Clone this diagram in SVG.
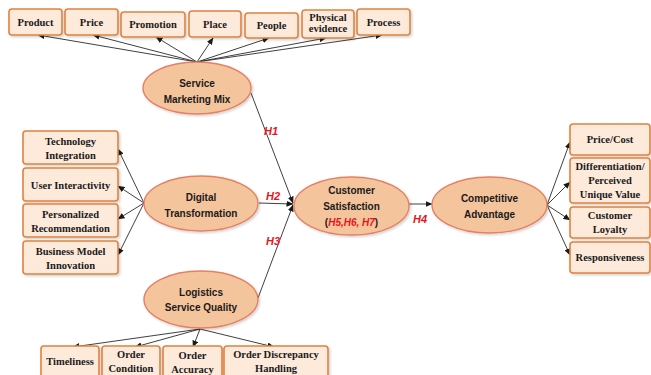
<svg xmlns="http://www.w3.org/2000/svg" width="651" height="375" viewBox="0 0 651 375">
<style>
.box{fill:#FDEADB;stroke:#E0823F;stroke-width:1.6}
.ell{fill:#F4C49C;stroke:#E58064;stroke-width:1.4}
.bt{font-family:"Liberation Serif",serif;font-weight:bold;font-size:10.5px;fill:#1a1a1a;text-anchor:middle}
.et{font-family:"Liberation Sans",sans-serif;font-weight:bold;font-size:10px;fill:#1a1a1a;text-anchor:middle}
.h{font-family:"Liberation Sans",sans-serif;font-weight:bold;font-style:italic;font-size:11px;fill:#E8141B;text-anchor:middle}
.c{stroke:#2a2a2a;stroke-width:0.9;fill:none;marker-end:url(#ah)}
</style>
<defs>
<marker id="ah" markerWidth="7" markerHeight="6" refX="6.5" refY="3" orient="auto" markerUnits="userSpaceOnUse">
<path d="M0,0 L7,3 L0,6 Z" fill="#1a1a1a"/>
</marker>
<filter id="sh" x="-10%" y="-10%" width="130%" height="140%">
<feDropShadow dx="1.5" dy="1.5" stdDeviation="1" flood-color="#000" flood-opacity="0.18"/>
</filter>
</defs>

<g id="connectors">
<line class="c" x1="197" y1="62" x2="38" y2="35"/>
<line class="c" x1="197" y1="62" x2="93" y2="35"/>
<line class="c" x1="197" y1="62" x2="156" y2="37"/>
<line class="c" x1="197" y1="62" x2="213" y2="38"/>
<line class="c" x1="197" y1="62" x2="269" y2="38"/>
<line class="c" x1="197" y1="62" x2="326" y2="38"/>
<line class="c" x1="197" y1="62" x2="382" y2="35"/>
<line class="c" x1="144" y1="203" x2="118" y2="149"/>
<line class="c" x1="144" y1="203" x2="118" y2="186"/>
<line class="c" x1="144" y1="203" x2="118" y2="219"/>
<line class="c" x1="144" y1="203" x2="118" y2="255"/>
<line class="c" x1="200" y1="329" x2="73" y2="347"/>
<line class="c" x1="200" y1="329" x2="135" y2="347"/>
<line class="c" x1="200" y1="329" x2="193" y2="347"/>
<line class="c" x1="200" y1="329" x2="274" y2="347"/>
<line class="c" x1="547" y1="205" x2="570" y2="142"/>
<line class="c" x1="547" y1="205" x2="570" y2="182"/>
<line class="c" x1="547" y1="205" x2="570" y2="220"/>
<line class="c" x1="547" y1="205" x2="570" y2="255"/>
<line class="c" x1="251" y1="93" x2="293" y2="203"/>
<line class="c" x1="259" y1="203" x2="293" y2="204"/>
<line class="c" x1="258" y1="298" x2="293" y2="205"/>
<line class="c" x1="409" y1="204" x2="432" y2="204"/>
<text class="h" x="271" y="135">H1</text>
<text class="h" x="273" y="200">H2</text>
<text class="h" x="273" y="245">H3</text>
<text class="h" x="420" y="223">H4</text>
</g>

<g id="product"><rect class="box" x="9" y="9" width="53" height="26" rx="3" filter="url(#sh)"/><text class="bt" x="35.5" y="26">Product</text></g>
<g id="price"><rect class="box" x="65" y="9" width="53" height="26" rx="3" filter="url(#sh)"/><text class="bt" x="91.5" y="26">Price</text></g>
<g id="promotion"><rect class="box" x="121" y="12" width="64" height="25" rx="3" filter="url(#sh)"/><text class="bt" x="153" y="28">Promotion</text></g>
<g id="place"><rect class="box" x="189" y="11" width="52" height="26" rx="3" filter="url(#sh)"/><text class="bt" x="215" y="28">Place</text></g>
<g id="people"><rect class="box" x="245" y="13" width="53" height="25" rx="3" filter="url(#sh)"/><text class="bt" x="271.5" y="29">People</text></g>
<g id="physical-evidence"><rect class="box" x="302" y="10" width="52" height="28" rx="3" filter="url(#sh)"/><text class="bt" x="328" y="21">Physical</text><text class="bt" x="328" y="32">evidence</text></g>
<g id="process"><rect class="box" x="357" y="9" width="53" height="26" rx="3" filter="url(#sh)"/><text class="bt" x="383.5" y="26">Process</text></g>

<g id="service-marketing-mix"><ellipse class="ell" cx="197" cy="88" rx="54" ry="26" filter="url(#sh)"/><text class="et" x="197" y="87">Service</text><text class="et" x="197" y="103">Marketing Mix</text></g>

<g id="technology-integration"><rect class="box" x="23" y="131" width="95" height="33" rx="3" filter="url(#sh)"/><text class="bt" x="70.5" y="145">Technology</text><text class="bt" x="70.5" y="159">Integration</text></g>
<g id="user-interactivity"><rect class="box" x="23" y="168" width="95" height="33" rx="3" filter="url(#sh)"/><text class="bt" x="70.5" y="189">User Interactivity</text></g>
<g id="personalized-recommendation"><rect class="box" x="23" y="204" width="95" height="33" rx="3" filter="url(#sh)"/><text class="bt" x="70.5" y="218">Personalized</text><text class="bt" x="70.5" y="232">Recommendation</text></g>
<g id="business-model-innovation"><rect class="box" x="23" y="241" width="95" height="33" rx="3" filter="url(#sh)"/><text class="bt" x="70.5" y="255">Business Model</text><text class="bt" x="70.5" y="269">Innovation</text></g>

<g id="digital-transformation"><ellipse class="ell" cx="201" cy="203.5" rx="57" ry="27.5" filter="url(#sh)"/><text class="et" x="201" y="201">Digital</text><text class="et" x="201" y="217">Transformation</text></g>

<g id="logistics-service-quality"><ellipse class="ell" cx="201" cy="299.5" rx="57" ry="28.5" filter="url(#sh)"/><text class="et" x="201" y="296">Logistics</text><text class="et" x="201" y="311">Service Quality</text></g>

<g id="timeliness"><rect class="box" x="41" y="346" width="58" height="36" rx="3" filter="url(#sh)"/><text class="bt" x="70" y="365">Timeliness</text></g>
<g id="order-condition"><rect class="box" x="102" y="346" width="58" height="36" rx="3" filter="url(#sh)"/><text class="bt" x="131" y="358">Order</text><text class="bt" x="131" y="372">Condition</text></g>
<g id="order-accuracy"><rect class="box" x="163" y="346" width="59" height="36" rx="3" filter="url(#sh)"/><text class="bt" x="192.5" y="359">Order</text><text class="bt" x="192.5" y="373">Accuracy</text></g>
<g id="order-discrepancy-handling"><rect class="box" x="224" y="346" width="104" height="36" rx="3" filter="url(#sh)"/><text class="bt" x="276" y="358">Order Discrepancy</text><text class="bt" x="276" y="372">Handling</text></g>

<g id="customer-satisfaction"><ellipse class="ell" cx="351.5" cy="206" rx="57.5" ry="29" filter="url(#sh)"/><text class="et" x="351.5" y="194">Customer</text><text class="et" x="351.5" y="210">Satisfaction</text><text class="et" x="351.5" y="226">(<tspan fill="#E8141B" font-style="italic">H5,H6, H7</tspan>)</text></g>

<g id="competitive-advantage"><ellipse class="ell" cx="489.5" cy="205" rx="57.5" ry="28" filter="url(#sh)"/><text class="et" x="489.5" y="202">Competitive</text><text class="et" x="489.5" y="218">Advantage</text></g>

<g id="price-cost"><rect class="box" x="570" y="124" width="80" height="31" rx="3" filter="url(#sh)"/><text class="bt" x="610" y="143">Price/Cost</text></g>
<g id="differentiation"><rect class="box" x="570" y="158" width="80" height="45" rx="3" filter="url(#sh)"/><text class="bt" x="610" y="170">Differentiation/</text><text class="bt" x="610" y="184">Perceived</text><text class="bt" x="610" y="198">Unique Value</text></g>
<g id="customer-loyalty"><rect class="box" x="570" y="207" width="80" height="31" rx="3" filter="url(#sh)"/><text class="bt" x="610" y="219">Customer</text><text class="bt" x="610" y="233">Loyalty</text></g>
<g id="responsiveness"><rect class="box" x="570" y="242" width="80" height="31" rx="3" filter="url(#sh)"/><text class="bt" x="610" y="261">Responsiveness</text></g>
</svg>
